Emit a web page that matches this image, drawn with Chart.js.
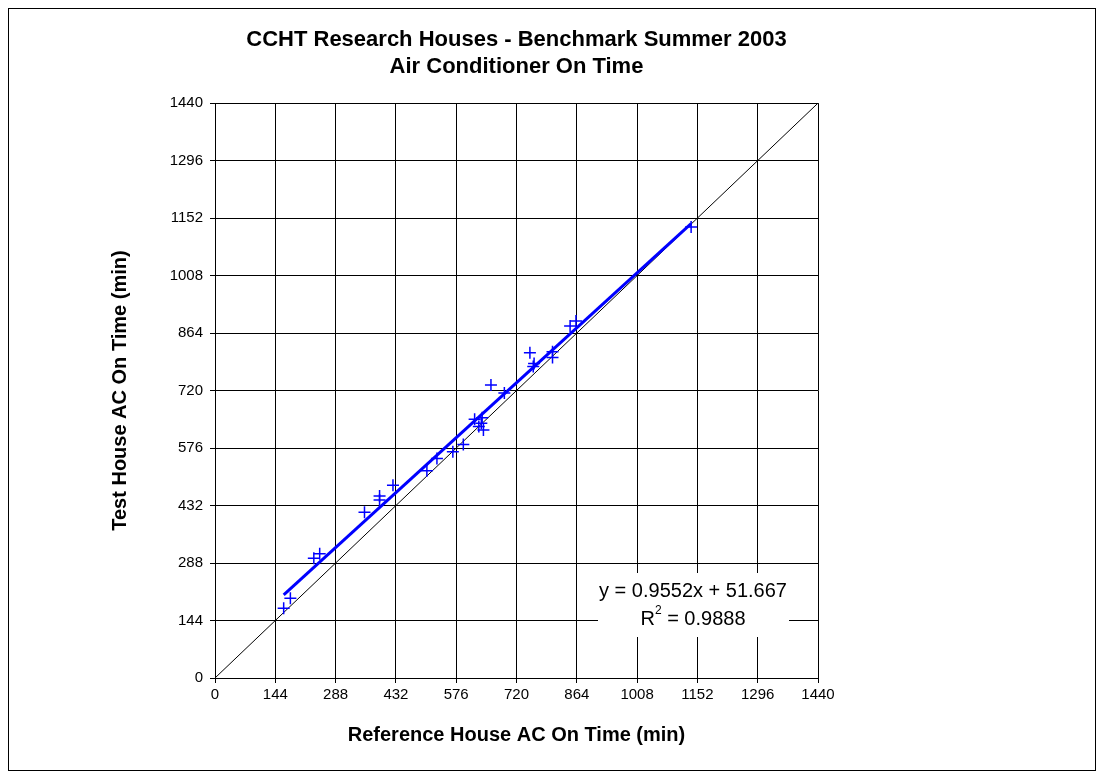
<!DOCTYPE html>
<html>
<head>
<meta charset="utf-8">
<title>CCHT Research Houses - Benchmark Summer 2003</title>
<script src="https://cdn.jsdelivr.net/npm/chart.js@4.4.1/dist/chart.umd.min.js"></script>
<style>
  html, body { margin: 0; padding: 0; background: #fff; }
  canvas { display: block; }
</style>
</head>
<body>
<canvas id="acChart" width="1103" height="775"></canvas>
<script>
// Reference house vs. test house AC on-time (minutes per day)
const refHouse = [164, 180, 236, 250, 357, 393, 393, 425, 506, 530, 568, 593,
  620, 638, 636, 641, 630, 659, 691, 752, 762, 760, 806, 806, 848, 862, 1137];
const testHouse = [175, 200, 300, 311, 415, 446, 456, 483, 519, 550, 567, 585,
  648, 652, 638, 621, 630, 734, 714, 815, 788, 780, 817, 803, 882, 894, 1130];

// linear trend line end points (y = 0.9552x + 51.667)
const trendX = [164, 1137];
const trendY = [208, 1138];

// 1:1 reference line
const diagX = [0, 1440];
const diagY = [0, 1440];

const tickValues = [0, 144, 288, 432, 576, 720, 864, 1008, 1152, 1296, 1440];
const eqLines = ['y = 0.9552x + 51.667', 'R', '2', ' = 0.9888'];

const FONT = "'Liberation Sans', Arial, sans-serif";
Chart.defaults.font.family = FONT;
Chart.defaults.color = '#000';

const toPoints = (xs, ys) => xs.map((x, i) => ({ x: x, y: ys[i] }));

// white box with the trend equation, sitting over the grid
const equationBox = {
  id: 'equationBox',
  beforeDatasetsDraw(chart) {
    const ctx = chart.ctx;
    ctx.save();
    ctx.fillStyle = '#fff';
    ctx.fillRect(598, 573, 191, 64);
    ctx.fillStyle = '#000';
    ctx.font = '20px ' + FONT;
    ctx.textAlign = 'center';
    ctx.textBaseline = 'middle';
    ctx.fillText(eqLines[0], 693, 591);
    // R² line, superscript by hand
    ctx.textAlign = 'left';
    const wR = ctx.measureText(eqLines[1]).width;
    ctx.font = '12px ' + FONT;
    const w2 = ctx.measureText(eqLines[2]).width;
    ctx.font = '20px ' + FONT;
    const wRest = ctx.measureText(eqLines[3]).width;
    let x = 693 - (wR + w2 + wRest) / 2;
    ctx.fillText(eqLines[1], x, 619);
    x += wR;
    ctx.font = '12px ' + FONT;
    ctx.fillText(eqLines[2], x, 611);
    x += w2;
    ctx.font = '20px ' + FONT;
    ctx.fillText(eqLines[3], x, 619);
    ctx.restore();
  }
};

// outer frame round the whole chart
const frame = {
  id: 'frame',
  afterDraw(chart) {
    const ctx = chart.ctx;
    ctx.save();
    ctx.strokeStyle = '#000';
    ctx.lineWidth = 1;
    ctx.strokeRect(8.5, 8.5, 1087, 762);
    ctx.restore();
  }
};

const plainTick = (value) => String(value);

new Chart(document.getElementById('acChart'), {
  type: 'scatter',
  data: {
    datasets: [{
      label: 'AC On Time',
      data: toPoints(refHouse, testHouse),
      pointStyle: 'cross',
      pointRadius: 6,
      pointBorderWidth: 1.5,
      borderColor: '#0000FF',
      backgroundColor: '#0000FF',
      showLine: false
    }, {
      label: 'Linear trend',
      data: toPoints(trendX, trendY),
      showLine: true,
      borderColor: '#0000FF',
      borderWidth: 3,
      pointRadius: 0
    }, {
      label: '1:1',
      data: toPoints(diagX, diagY),
      showLine: true,
      borderColor: '#000',
      borderWidth: 1,
      pointRadius: 0
    }]
  },
  options: {
    responsive: false,
    animation: false,
    devicePixelRatio: 1,
    layout: { padding: { top: 10, left: 0, right: 285, bottom: 8 } },
    plugins: {
      legend: { display: false },
      tooltip: { enabled: false },
      title: {
        display: true,
        fullSize: false,
        text: ['CCHT Research Houses - Benchmark Summer 2003', 'Air Conditioner On Time'],
        color: '#000',
        font: { size: 22, weight: 'bold', lineHeight: 1.23 },
        padding: { top: 16, bottom: 23 }
      }
    },
    scales: {
      x: {
        type: 'linear',
        min: 0,
        max: 1440,
        afterBuildTicks: (scale) => { scale.ticks = tickValues.map(v => ({ value: v })); },
        afterFit: (scale) => { scale.height = 89; },
        ticks: { font: { size: 15 }, padding: 3, maxRotation: 0, color: '#000', callback: plainTick },
        grid: { color: '#000', lineWidth: 1, tickLength: 5 },
        border: { color: '#000', width: 1 },
        title: {
          display: true,
          text: 'Reference House AC On Time (min)',
          font: { size: 20, weight: 'bold' },
          padding: { top: 0, bottom: 20 }
        }
      },
      y: {
        type: 'linear',
        min: 0,
        max: 1440,
        afterBuildTicks: (scale) => { scale.ticks = tickValues.map(v => ({ value: v })); },
        afterFit: (scale) => { scale.width = 215; },
        ticks: { font: { size: 15 }, padding: 7, color: '#000', callback: plainTick },
        grid: { color: '#000', lineWidth: 1, tickLength: 5 },
        border: { color: '#000', width: 1 },
        title: {
          display: true,
          text: 'Test House AC On Time (min)',
          font: { size: 20, weight: 'bold' },
          padding: { top: 108, bottom: 0 }
        }
      }
    }
  },
  plugins: [equationBox, frame]
});
</script>
</body>
</html>
